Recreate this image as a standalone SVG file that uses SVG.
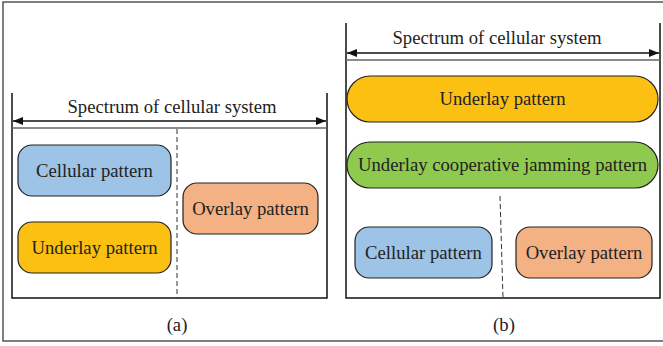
<svg xmlns="http://www.w3.org/2000/svg" width="663" height="346" viewBox="0 0 663 346">
<defs>
<marker id="ah" viewBox="0 0 10 8" refX="10" refY="4" markerWidth="10" markerHeight="8" markerUnits="userSpaceOnUse" orient="auto-start-reverse">
<path d="M0,0 L10,4 L0,8 Z" fill="#111"/>
</marker>
</defs>
<style>
.t{font-family:"Liberation Serif","Times New Roman",serif;font-size:18.7px;fill:#222;text-anchor:middle;dominant-baseline:central}
.box{stroke:#222;stroke-width:1.2}
.ln{stroke:#111;stroke-width:1.5;fill:none}
.sep{stroke:#666;stroke-width:1.5;fill:none}
.dash{stroke:#333;stroke-width:1;stroke-dasharray:5,3;fill:none}
.blue{fill:#9dc3e6}.yel{fill:#fbc012}.org{fill:#f4b183}.grn{fill:#8fca4e}
</style>
<rect x="3" y="2" width="665" height="339" fill="#fff" stroke="#555" stroke-width="1.5"/>
<g id="connectors">
<path class="ln" d="M12,93 V298 H327 V93"/>
<line class="sep" x1="12" y1="128" x2="327" y2="128"/>
<line class="ln" x1="13" y1="121" x2="326" y2="121" marker-start="url(#ah)" marker-end="url(#ah)" stroke-width="1.2"/>
<line class="dash" x1="177" y1="129" x2="177" y2="298"/>
<path class="ln" d="M346,23 V298 H660 V23"/>
<line class="sep" x1="346" y1="60" x2="660" y2="60"/>
<line class="ln" x1="347" y1="53" x2="659" y2="53" marker-start="url(#ah)" marker-end="url(#ah)" stroke-width="1.2"/>
<line class="dash" x1="500" y1="196" x2="503" y2="298"/>
</g>
<g id="label-a-spectrum"><text class="t" x="172" y="106">Spectrum of cellular system</text></g>
<g id="a-cellular"><rect class="box blue" x="18" y="145" width="153" height="51" rx="14"/><text class="t" x="94.5" y="170">Cellular pattern</text></g>
<g id="a-underlay"><rect class="box yel" x="18" y="222" width="153" height="51" rx="14"/><text class="t" x="94.5" y="247">Underlay pattern</text></g>
<g id="a-overlay"><rect class="box org" x="183" y="183" width="135" height="51" rx="14"/><text class="t" x="250.5" y="208">Overlay pattern</text></g>
<g id="label-b-spectrum"><text class="t" x="497" y="37">Spectrum of cellular system</text></g>
<g id="b-underlay"><rect class="box yel" x="347" y="76" width="311" height="46" rx="23"/><text class="t" x="502.5" y="98.5">Underlay pattern</text></g>
<g id="b-jamming"><rect class="box grn" x="347" y="142" width="311" height="46" rx="23"/><text class="t" x="502.5" y="164.5">Underlay cooperative jamming pattern</text></g>
<g id="b-cellular"><rect class="box blue" x="355" y="227" width="137" height="51" rx="14"/><text class="t" x="423.5" y="252">Cellular pattern</text></g>
<g id="b-overlay"><rect class="box org" x="516" y="227" width="136" height="51" rx="14"/><text class="t" x="584" y="252">Overlay pattern</text></g>
<g id="captions"><text class="t" x="177" y="324">(a)</text><text class="t" x="504" y="324">(b)</text></g>
</svg>
